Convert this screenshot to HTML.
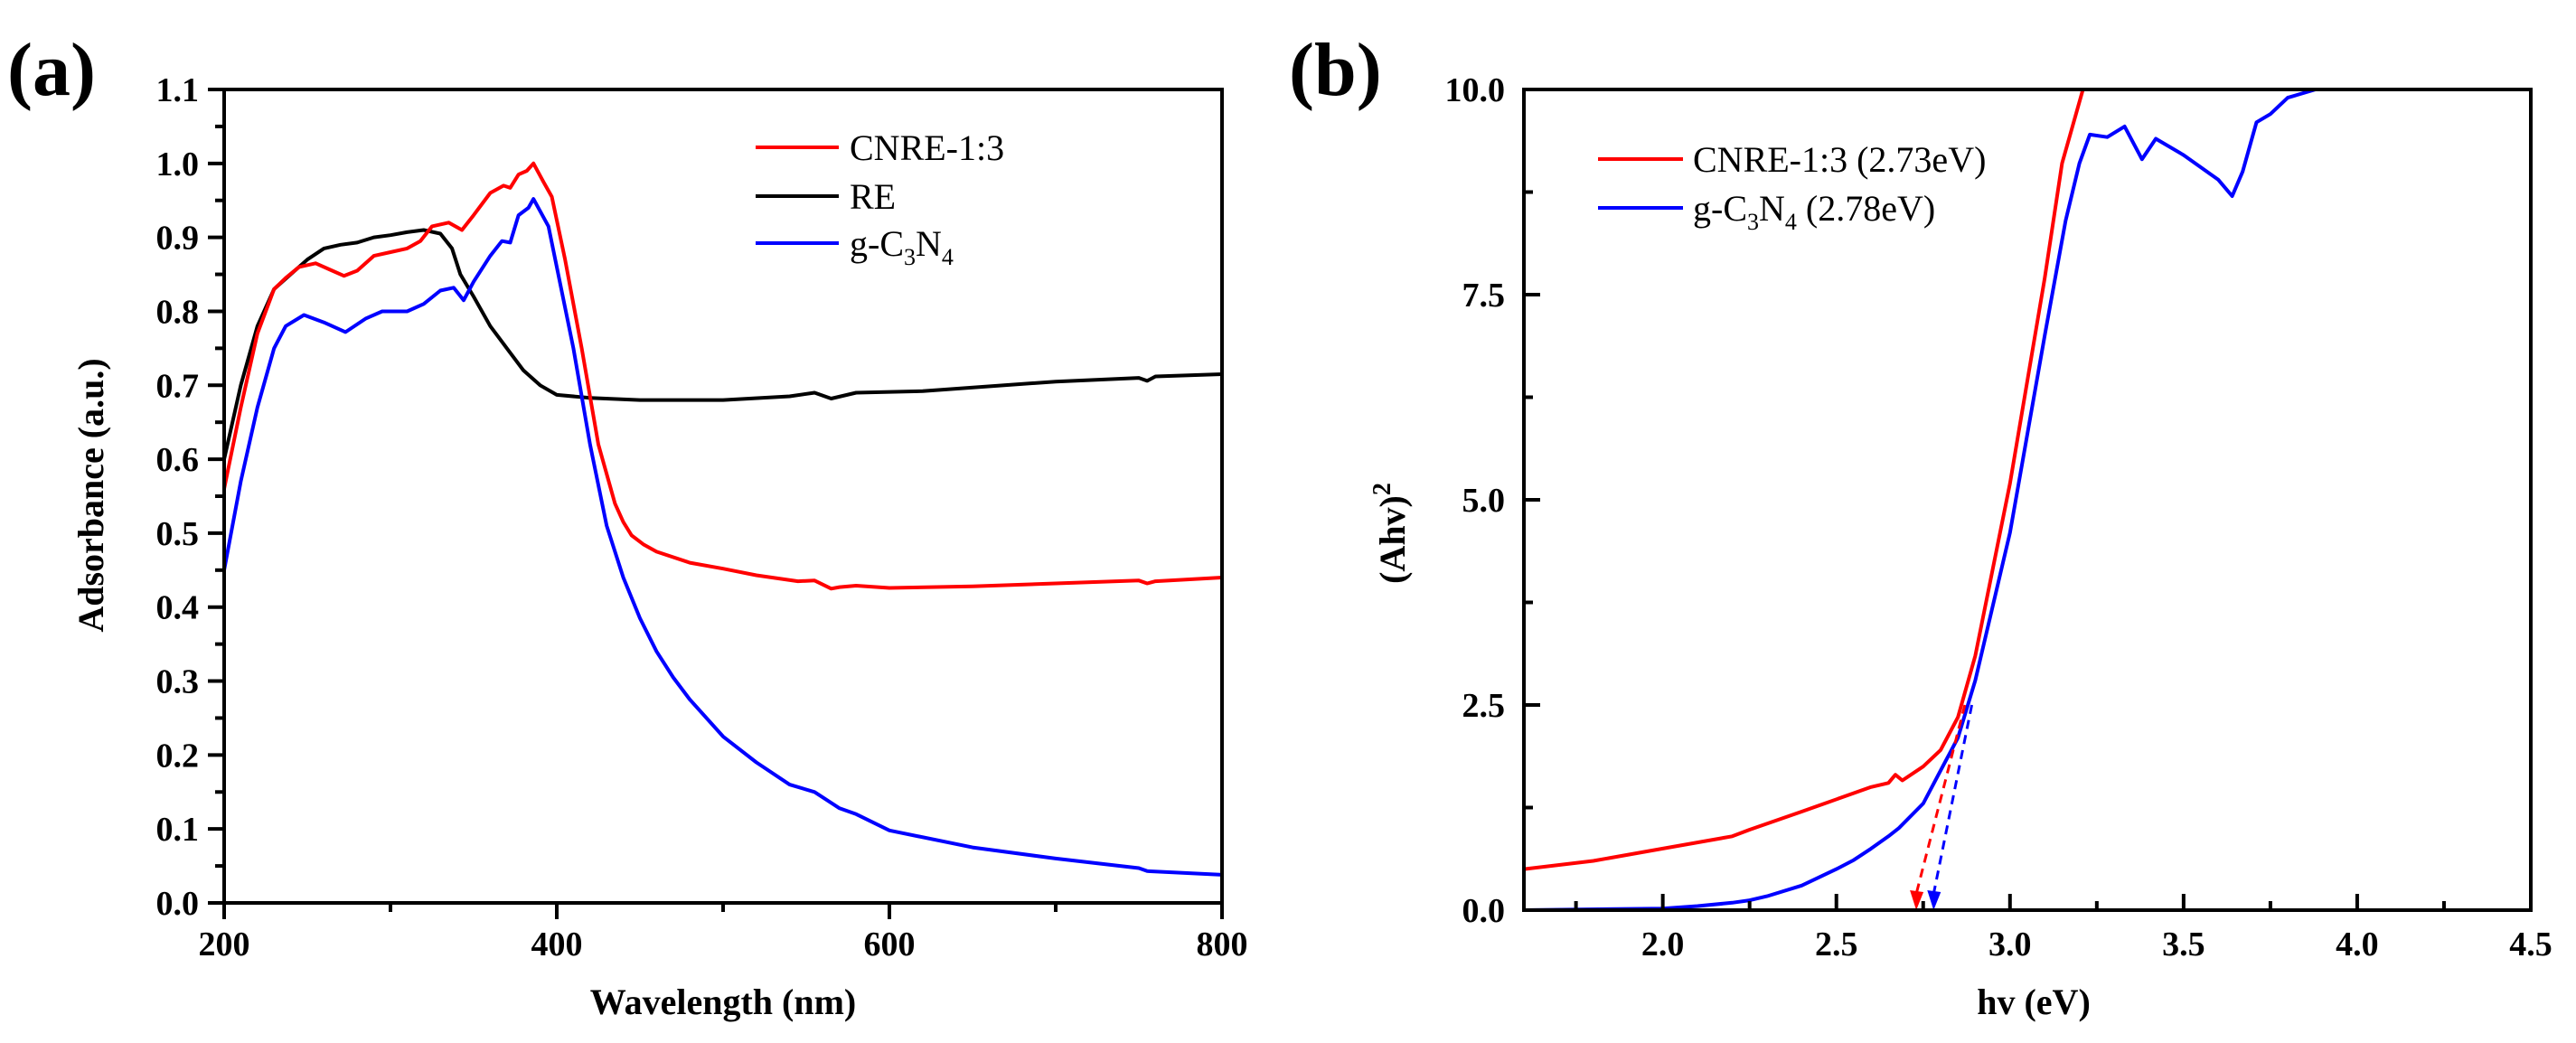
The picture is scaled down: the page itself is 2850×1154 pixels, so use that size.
<!DOCTYPE html>
<html><head><meta charset="utf-8">
<style>
html,body{margin:0;padding:0;background:#fff;}
svg{display:block;font-family:"Liberation Serif",serif;}
</style></head>
<body>
<svg id="fig" width="2850" height="1154" viewBox="0 0 2850 1154" xmlns="http://www.w3.org/2000/svg"></svg>
<script>
// ---------- Panel (a) data ----------
const aWave = [200,210,220,230,237,245,255,265,272,280,290,300,310,318,325,335,343,350,360,368,372,377,382,386,392,397,405,415,425,435,440,445,452,460,480,500,520,545,555,565,570,580,600,650,700,750,755,760,800];
const aCNRE = [0.56,0.67,0.77,0.83,0.845,0.86,0.865,0.855,0.848,0.855,0.875,0.88,0.885,0.895,0.915,0.92,0.91,0.93,0.96,0.97,0.967,0.985,0.99,1.0,0.975,0.955,0.87,0.75,0.62,0.54,0.515,0.497,0.485,0.475,0.46,0.452,0.443,0.435,0.436,0.425,0.427,0.429,0.426,0.428,0.432,0.436,0.432,0.435,0.44];
const aREx = [200,210,220,230,240,250,260,270,280,290,300,310,320,330,337,342,350,360,370,380,390,400,420,450,500,540,555,565,580,620,700,750,755,760,800];
const aRE = [0.6,0.7,0.78,0.83,0.85,0.87,0.885,0.89,0.893,0.9,0.903,0.907,0.91,0.905,0.885,0.85,0.82,0.78,0.75,0.72,0.7,0.687,0.683,0.68,0.68,0.685,0.69,0.682,0.69,0.692,0.705,0.71,0.706,0.712,0.715];
const aGCNx = [200,210,220,230,237,248,260,273,285,295,310,320,330,338,344,350,360,367,372,377,383,386,395,410,420,430,440,450,460,470,480,500,520,540,555,570,580,600,650,700,750,755,800];
const aGCN = [0.45,0.57,0.67,0.75,0.78,0.795,0.785,0.772,0.79,0.8,0.8,0.81,0.828,0.832,0.815,0.84,0.875,0.895,0.893,0.93,0.94,0.952,0.915,0.75,0.62,0.51,0.44,0.385,0.34,0.305,0.275,0.225,0.19,0.16,0.15,0.128,0.12,0.098,0.075,0.06,0.047,0.043,0.038];
const aXTicks = [200,400,600,800];
const aYTicks = ["0.0","0.1","0.2","0.3","0.4","0.5","0.6","0.7","0.8","0.9","1.0","1.1"];
// ---------- Panel (b) data ----------
const bRedX = [1.6,1.8,2.0,2.2,2.25,2.4,2.6,2.65,2.67,2.69,2.75,2.8,2.85,2.9,3.0,3.1,3.15,3.21];
const bRedY = [0.5,0.6,0.75,0.9,0.98,1.2,1.5,1.55,1.65,1.58,1.75,1.95,2.35,3.1,5.2,7.7,9.1,10];
const bBlueX = [1.6,2.0,2.1,2.2,2.25,2.3,2.4,2.45,2.5,2.55,2.6,2.65,2.68,2.75,2.8,2.85,2.9,3.0,3.1,3.16,3.2,3.23,3.28,3.33,3.38,3.42,3.5,3.6,3.64,3.67,3.71,3.75,3.8,3.88];
const bBlueY = [0,0.02,0.05,0.09,0.12,0.17,0.3,0.4,0.5,0.61,0.75,0.9,1.0,1.3,1.7,2.1,2.8,4.6,7.0,8.4,9.1,9.45,9.42,9.55,9.15,9.4,9.2,8.9,8.7,9.0,9.6,9.7,9.9,10];
const bGaps = [2.73,2.78];
const bXTicks = ["2.0","2.5","3.0","3.5","4.0","4.5"];
const bYTicks = ["0.0","2.5","5.0","7.5","10.0"];

const NS="http://www.w3.org/2000/svg";
const svg=document.getElementById('fig');
function mk(tag,attrs,parent,text){const e=document.createElementNS(NS,tag);for(const k in attrs)e.setAttribute(k,attrs[k]);if(text!==undefined)e.textContent=text;(parent||svg).appendChild(e);return e;}

const A={x0:248,x1:1352,y0:999,y1:99,xmin:200,xmax:800,ymin:0,ymax:1.1};
const B={x0:1686,x1:2800,y0:1007,y1:99,xmin:1.6,xmax:4.5,ymin:0,ymax:10};
const sx=(P,v)=>P.x0+(v-P.xmin)/(P.xmax-P.xmin)*(P.x1-P.x0);
const sy=(P,v)=>P.y0-(v-P.ymin)/(P.ymax-P.ymin)*(P.y0-P.y1);

// ===== Panel a =====
const ga=mk('g',{});


function line(P,xs,ys,color,g,name){
  const d=xs.map((x,i)=>(i?'L':'M')+sx(P,x).toFixed(1)+','+sy(P,ys[i]).toFixed(1)).join('');
  const p=mk('path',{d:d,fill:'none',stroke:color,'stroke-width':4,'stroke-linejoin':'round'},g);
  
  
}
line(A,aREx,aRE,'#000',ga,'series-re');
line(A,aWave,aCNRE,'#ff0000',ga,'series-cnre-1-3');
line(A,aGCNx,aGCN,'#0000ff',ga,'series-g-c3n4');
const fa=mk('rect',{x:A.x0,y:A.y1,width:A.x1-A.x0,height:A.y0-A.y1,fill:'none',stroke:'#000','stroke-width':4},ga);


for(let v=200;v<=800;v+=100){
  const x=sx(A,v);const major=(v%200===0);
  mk('line',{x1:x,y1:A.y0,x2:x,y2:A.y0+(major?18:10),stroke:'#000','stroke-width':4},ga);
}
aXTicks.forEach(v=>{
  const t=mk('text',{x:sx(A,v),y:A.y0+58,'text-anchor':'middle','font-size':38,'font-weight':'bold'},ga,String(v));
  
  
});
for(let i=0;i<=22;i++){
  const v=i*0.05;const y=sy(A,v);
  mk('line',{x1:A.x0,y1:y,x2:A.x0-(i%2===0?18:10),y2:y,stroke:'#000','stroke-width':4},ga);
}
aYTicks.forEach(s=>{
  const t=mk('text',{x:220,y:sy(A,parseFloat(s))+13,'text-anchor':'end','font-size':38,'font-weight':'bold'},ga,s);
  
  
});
let t;
t=mk('text',{x:800,y:1122,'text-anchor':'middle','font-size':40,'font-weight':'bold'},ga,'Wavelength (nm)');


t=mk('text',{x:0,y:0,'text-anchor':'middle','font-size':40,'font-weight':'bold',transform:'translate(114,548) rotate(-90)'},ga,'Adsorbance (a.u.)');


t=mk('text',{x:8,y:105,'font-size':84,'font-weight':'bold'},ga,'(a)');


const la=[['#ff0000','CNRE-1:3',163],['#000','RE',217],['#0000ff','g-C3N4',269]];
la.forEach(([c,s,y])=>{
  const g=mk('g',{},ga);
  
  
  mk('line',{x1:836,y1:y,x2:928,y2:y,stroke:c,'stroke-width':4},g);
  if(s==='g-C3N4'){
    const tx=mk('text',{x:940,y:y+14,'font-size':40},g);
    mk('tspan',{},tx,'g-C');mk('tspan',{'font-size':26,dy:10},tx,'3');mk('tspan',{dy:-10},tx,'N');mk('tspan',{'font-size':26,dy:10},tx,'4');
  } else mk('text',{x:940,y:y+14,'font-size':40},g,s);
});

// ===== Panel b =====
const gb=mk('g',{});


const clip=mk('clipPath',{id:'cb'},gb);mk('rect',{x:B.x0,y:B.y1,width:B.x1-B.x0,height:B.y0-B.y1},clip);
const gc=mk('g',{'clip-path':'url(#cb)'},gb);
line(B,bRedX,bRedY,'#ff0000',gc,'series-cnre-1-3-tauc');
line(B,bBlueX,bBlueY,'#0000ff',gc,'series-g-c3n4-tauc');
const tops=[[2.87,2.5],[2.89,2.5]];const cols=['#ff0000','#0000ff'];
bGaps.forEach((g,i)=>{
  const x1=sx(B,tops[i][0]),y1=sy(B,tops[i][1]),x2=sx(B,g),y2=sy(B,0);
  const l=mk('line',{x1:x1,y1:y1,x2:x2,y2:y2-18,stroke:cols[i],'stroke-width':3,'stroke-dasharray':'10,7'},gb);
  
  
  const a=mk('polygon',{points:`${x2-7},${y2-22} ${x2+8},${y2-20} ${x2},${y2}`,fill:cols[i]},gb);
  
  
});
const fb=mk('rect',{x:B.x0,y:B.y1,width:B.x1-B.x0,height:B.y0-B.y1,fill:'none',stroke:'#000','stroke-width':4},gb);


for(let i=0;i<=10;i++){
  const v=1.75+i*0.25;if(v>4.5)break;const x=sx(B,v);const major=(i%2===1);
  mk('line',{x1:x,y1:B.y0,x2:x,y2:B.y0-(major?18:10),stroke:'#000','stroke-width':4},gb);
}
bXTicks.forEach(s=>{
  const t=mk('text',{x:sx(B,parseFloat(s)),y:B.y0+50,'text-anchor':'middle','font-size':38,'font-weight':'bold'},gb,s);
  
  
});
for(let i=0;i<=8;i++){
  const y=sy(B,i*1.25);
  mk('line',{x1:B.x0,y1:y,x2:B.x0+(i%2===0?18:10),y2:y,stroke:'#000','stroke-width':4},gb);
}
bYTicks.forEach(s=>{
  const t=mk('text',{x:1665,y:sy(B,parseFloat(s))+13,'text-anchor':'end','font-size':38,'font-weight':'bold'},gb,s);
  
  
});
t=mk('text',{x:2250,y:1122,'text-anchor':'middle','font-size':40,'font-weight':'bold'},gb,'hv (eV)');


t=mk('text',{x:0,y:0,'text-anchor':'middle','font-size':40,'font-weight':'bold',transform:'translate(1554,590) rotate(-90)'},gb);
mk('tspan',{},t,'(Ahv)');mk('tspan',{'font-size':28,dy:-16},t,'2');


t=mk('text',{x:1426,y:105,'font-size':84,'font-weight':'bold'},gb,'(b)');


const lb=[['#ff0000','CNRE-1:3 (2.73eV)',176],['#0000ff','g-C3N4',230]];
lb.forEach(([c,s,y])=>{
  const g=mk('g',{},gb);
  
  
  mk('line',{x1:1768,y1:y,x2:1862,y2:y,stroke:c,'stroke-width':4},g);
  if(s==='g-C3N4'){
    const tx=mk('text',{x:1873,y:y+14,'font-size':40},g);
    mk('tspan',{},tx,'g-C');mk('tspan',{'font-size':26,dy:10},tx,'3');mk('tspan',{dy:-10},tx,'N');mk('tspan',{'font-size':26,dy:10},tx,'4');mk('tspan',{dy:-10},tx,' (2.78eV)');
  } else mk('text',{x:1873,y:y+14,'font-size':40},g,s);
});
</script>
</body></html>
